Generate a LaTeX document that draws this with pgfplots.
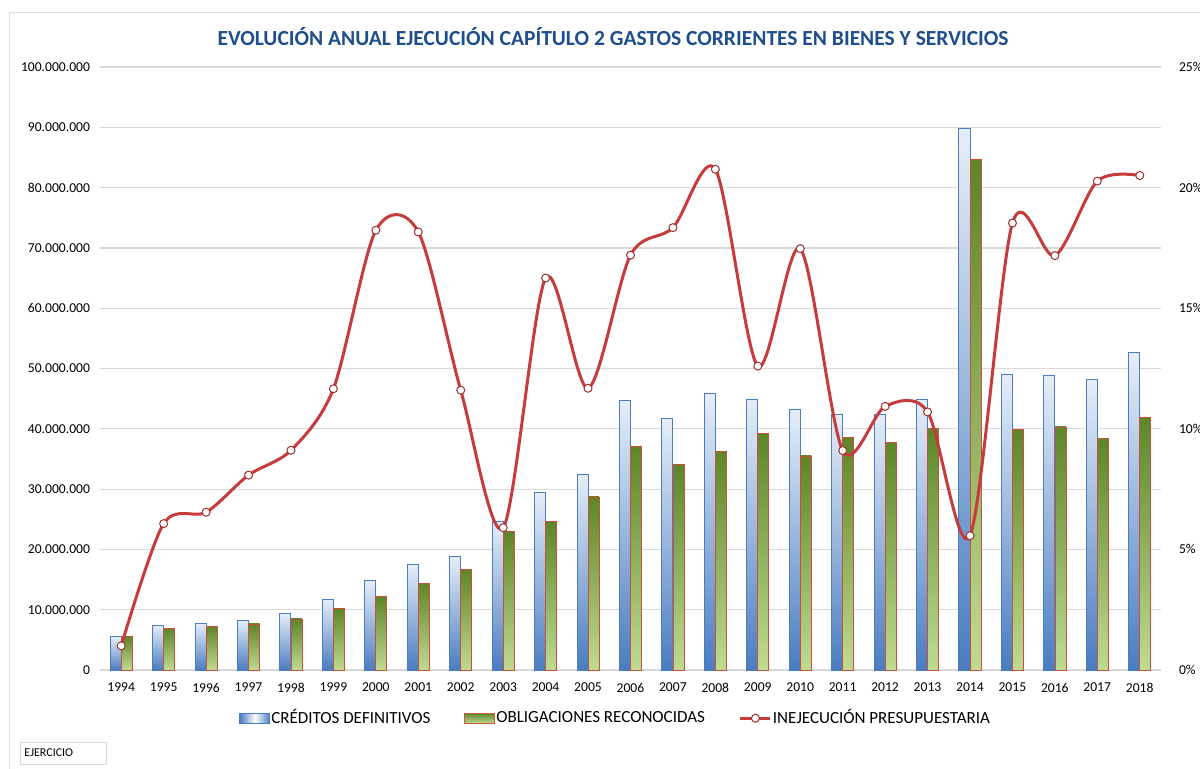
\documentclass[border=0pt]{standalone}
\usepackage{pgfplots}
\pgfplotsset{compat=1.18}
\usepackage{pgfplotstable}
\usepackage{fontspec}
\setmainfont{Carlito}

\definecolor{titleblue}{HTML}{1F4E8C}
\definecolor{barblue}{HTML}{4A7CC0}
\definecolor{barbluelight}{HTML}{E6EEF8}
\definecolor{bargreen}{HTML}{5E8529}
\definecolor{bargreenlight}{HTML}{BFDB92}
\definecolor{greenedge}{HTML}{C8503C}
\definecolor{linered}{HTML}{C63B3B}
\definecolor{gridgray}{HTML}{D9D9D9}

% year, creditos definitivos, obligaciones reconocidas, inejecucion (%)
\pgfplotstableread{
year cred     oblig    inej
1994 5550000  5550000  1.00
1995 7460000  6900000  6.07
1996 7740000  7180000  6.54
1997 8240000  7630000  8.08
1998 9340000  8460000  9.11
1999 11700000 10200000 11.66
2000 14800000 12200000 18.23
2001 17500000 14400000 18.16
2002 18800000 16700000 11.60
2003 24600000 23050000 5.90
2004 29400000 24700000 16.25
2005 32450000 28700000 11.68
2006 44700000 37000000 17.20
2007 41700000 34100000 18.34
2008 45800000 36300000 20.76
2009 44900000 39300000 12.60
2010 43200000 35500000 17.47
2011 42300000 38500000 9.10
2012 42400000 37700000 10.93
2013 44900000 40100000 10.70
2014 89800000 84700000 5.57
2015 49000000 39900000 18.53
2016 48800000 40300000 17.18
2017 48200000 38400000 20.27
2018 52700000 41900000 20.50
}\datatable

\pgfplotsset{
  common/.style={
    scale only axis, width=530.5pt, height=301.5pt,
    xmin=1993.5, xmax=2018.5,
    axis line style={draw=none},
    major tick length=0pt,
    tick label style={font=\fontsize{6.8}{7}\selectfont, black},
    /pgf/number format/assume math mode=true,
  },
  credbar/.style={ybar, bar width=0.26, bar shift=-0.13, draw=barblue, line width=0.5pt,
    top color=barbluelight, bottom color=barblue},
  obligbar/.style={ybar, bar width=0.26, bar shift=0.13, draw=greenedge, line width=0.4pt,
    top color=bargreen, bottom color=bargreenlight},
}

\begin{document}
\begin{tikzpicture}
\path[use as bounding box] (-50pt,-49pt) rectangle (550pt,335pt);
% frame of the chart area
\draw[gray!25, line width=0.5pt] (-45pt,-60pt) rectangle (570pt,329pt);

\begin{axis}[
  common,
  ymin=0, ymax=100000000,
  ytick={0,10000000,20000000,30000000,40000000,50000000,60000000,70000000,80000000,90000000,100000000},
  scaled y ticks=false,
  yticklabel style={/pgf/number format/fixed, /pgf/number format/precision=0,
    /pgf/number format/1000 sep={.}, xshift=-1.5pt},
  xtick={1994,...,2018},
  xticklabel style={/pgf/number format/1000 sep={}, yshift=-3pt},
  ymajorgrids, grid style={gridgray, line width=0.6pt},
  legend style={at={(0.487,-0.08)}, anchor=center, draw=none, fill=none,
    legend columns=-1, font=\fontsize{8.5}{9}\selectfont,
    /tikz/every even column/.append style={column sep=15pt},
    /tikz/every odd column/.append style={column sep=-1.5pt}},
]
% one plot per year, so that every bar gets its own vertical gradient
\pgfplotsinvokeforeach{1994,...,2018}{
  \addplot[credbar, forget plot, restrict x to domain=#1:#1]
    table[x=year, y=cred] {\datatable};
  \addplot[obligbar, forget plot, restrict x to domain=#1:#1]
    table[x=year, y=oblig] {\datatable};
}
\addlegendimage{legend image code/.code={\draw[draw=barblue, left color=barblue, right color=barblue, middle color=white] (0pt,-2.6pt) rectangle (15pt,2.6pt);}}
\addlegendentry{CRÉDITOS DEFINITIVOS}
\addlegendimage{legend image code/.code={\draw[draw=greenedge!70!brown, top color=bargreen, bottom color=bargreenlight] (0pt,-2.6pt) rectangle (15pt,2.6pt);}}
\addlegendentry{OBLIGACIONES RECONOCIDAS}
\addlegendimage{legend image code/.code={\draw[linered, line width=1.5pt] (0pt,0pt) -- (15pt,0pt);
    \draw[draw=linered!80!black, fill=white, line width=0.5pt] (7.5pt,0pt) circle (2pt);}}
\addlegendentry{INEJECUCIÓN PRESUPUESTARIA}
\end{axis}

\begin{axis}[
  common,
  ymin=0, ymax=25,
  hide x axis,
  yticklabel pos=right,
  ytick={0,5,10,15,20,25},
  yticklabel={\pgfmathprintnumber{\tick}\%},
  yticklabel style={xshift=5.5pt},
]
\addplot[linered, line width=1.5pt, smooth, tension=0.5,
  mark=*, mark size=2pt, mark options={fill=white, draw=linered!80!black, line width=0.5pt}]
  table[x=year, y=inej] {\datatable};
\end{axis}

\node[font=\bfseries\fontsize{10.75}{12}\selectfont, text=titleblue] at (256.5pt,316.5pt)
  {EVOLUCIÓN ANUAL EJECUCIÓN CAPÍTULO 2 GASTOS CORRIENTES EN BIENES Y SERVICIOS};
\draw[gray!30, line width=0.5pt] (-39.5pt,-36pt) rectangle (3.5pt,-47pt);
\node[anchor=west, font=\fontsize{6}{7}\selectfont, inner sep=1pt] at (-39pt,-41.5pt) {EJERCICIO};
\end{tikzpicture}
\end{document}
